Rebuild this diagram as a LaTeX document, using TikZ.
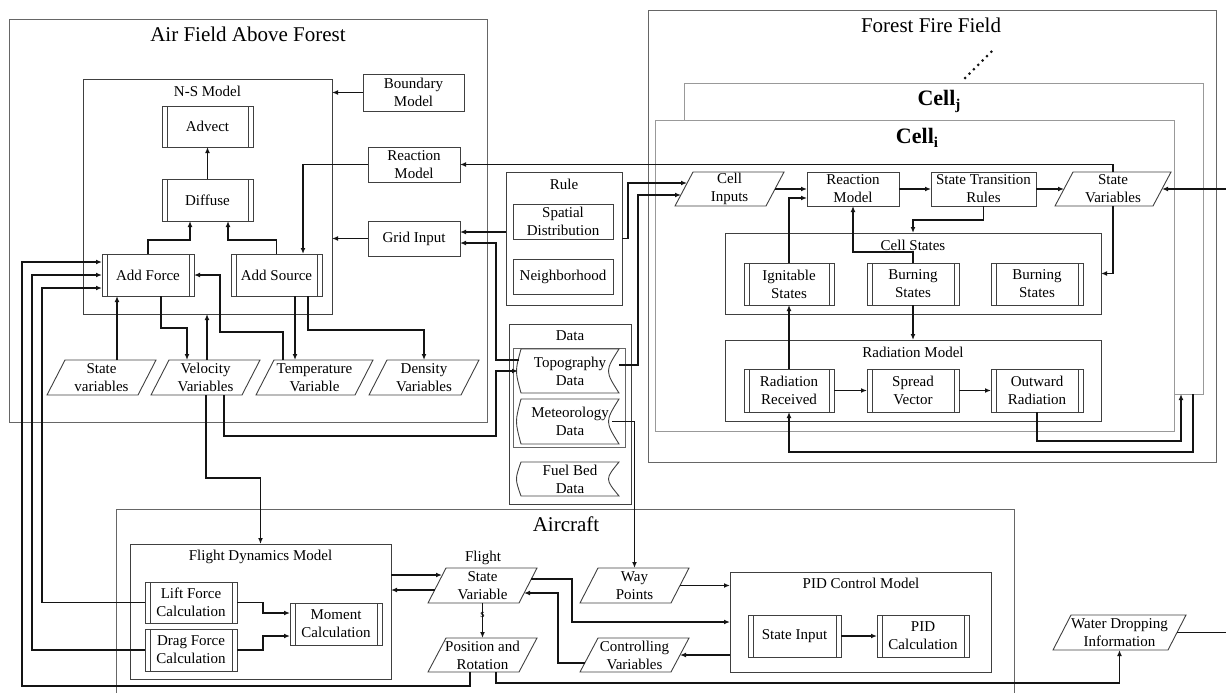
\documentclass[tikz,border=0pt]{standalone}
\usepackage{fontspec}
\setmainfont{Liberation Serif}
\usetikzlibrary{arrows.meta}
\definecolor{boxc}{gray}{0.25}
\definecolor{framec}{gray}{0.4}
\definecolor{cellc}{gray}{0.6}
\definecolor{linec}{gray}{0.08}
\tikzset{
  every node/.style={font=\fontsize{15}{18}\selectfont},
  sz/.style 2 args={minimum width=#1pt, minimum height=#2pt},
  frame/.style={draw=#1, line width=0.9pt, inner sep=0pt, outer sep=0pt},
  plainbox/.style={draw=boxc, line width=0.9pt, align=center, inner sep=1pt, outer sep=0pt},
  proc/.style={plainbox, path picture={
      \draw[boxc, line width=0.9pt]
        ([xshift=5pt]path picture bounding box.north west) -- ([xshift=5pt]path picture bounding box.south west)
        ([xshift=-5pt]path picture bounding box.north east) -- ([xshift=-5pt]path picture bounding box.south east);}},
  paranode/.style={align=center, inner sep=0pt, outer sep=0pt},
  datanode/.style={align=center, inner sep=0pt, outer sep=0pt},
  shapeline/.style={draw=boxc, line width=0.9pt},
  arr/.style={draw=linec, line width=1.35pt, -{Latex[length=6pt,width=4.8pt]}},
  ln/.style={draw=linec, line width=1.35pt},
  title/.style={font=\fontsize{21}{24}\selectfont},
  celltitle/.style={font=\fontsize{22}{24}\selectfont\bfseries},
  slab/.style={font=\fontsize{11}{12}\selectfont, inner sep=0pt},
}
\begin{document}
\begin{tikzpicture}[x=1pt,y=-1pt]
\useasboundingbox (0,0) rectangle (1226,693);
\clip (0,0) rectangle (1226,693);

% ---------------- containers ----------------
\node[frame=framec, sz={478}{403}] (air) at (248,220.5) {};
\node[title] (airt) at (248,34) {Air Field Above Forest};
\node[frame=boxc, sz={249}{235}] (ns) at (207.5,196.5) {};
\node (nst) at (207.5,91) {N-S Model};

\node[frame=boxc, sz={116}{133}] (rule) at (564,238.5) {};
\node (rulet) at (564,184) {Rule};
\node[frame=boxc, sz={122}{180}] (data) at (570,414) {};
\node (datat) at (570,336) {Data};
\node[frame=framec, sz={112}{99}] (dinner) at (569,397.5) {};

\node[frame=framec, sz={568}{452}] (forest) at (932,236) {};
\node[title] (forestt) at (931,25) {Forest Fire Field};
\coordinate (d1) at (965,78);
\coordinate (d2) at (993,50);
\draw[linec, line width=3pt, line cap=round, dash pattern=on 0pt off 6.2pt] (d1) -- (d2);
\node[frame=cellc, sz={519}{311}] (cellj) at (943.5,238.5) {};
\node[celltitle] (celljt) at (939,101) {Cell\raisebox{-4pt}{\fontsize{15}{15}\selectfont\bfseries j}};
\node[frame=cellc, fill=white, sz={519}{311}] (celli) at (914.5,275.5) {};
\node[celltitle] (cellit) at (917,138) {Cell\raisebox{-4pt}{\fontsize{15}{15}\selectfont\bfseries i}};
\node[frame=boxc, sz={376}{81}] (cstates) at (913,273.5) {};
\node (cstatest) at (913,245) {Cell States};
\node[frame=boxc, sz={376}{81}] (radm) at (913,380.5) {};
\node (radmt) at (913,352) {Radiation Model};

\node[frame=framec, sz={898}{200}] (aircraft) at (565,609) {};
\node[title] (aircraftt) at (566,524) {Aircraft};
\node[frame=boxc, sz={261}{135}] (fdm) at (260.5,611.5) {};
\node (fdmt) at (260.5,557) {Flight Dynamics Model};
\node[frame=boxc, sz={261}{100}] (pid) at (860.5,622) {};
\node (pidt) at (861,583) {PID Control Model};

% ---------------- air field nodes ----------------
\node[proc, sz={91}{41}] (advect) at (207.5,126.5) {Advect};
\node[proc, sz={91}{42}] (diffuse) at (207.5,200) {Diffuse};
\node[proc, sz={92}{42}] (addforce) at (148,275) {Add Force};
\node[proc, sz={91}{42}] (addsource) at (276.5,275) {Add Source};
\node[plainbox, sz={101}{37}] (boundary) at (413.5,92.5) {Boundary\\Model};
\node[plainbox, sz={92}{35}] (reactA) at (414,164.5) {Reaction\\Model};
\node[plainbox, sz={92}{35}] (grid) at (414,238.5) {Grid Input};

\node[paranode, sz={91}{35}] (sv) at (101.5,377.5) {State\\variables};
\node[paranode, sz={91}{35}] (vel) at (205.5,377.5) {Velocity\\Variables};
\node[paranode, sz={99}{35}] (temp) at (314.5,377.5) {Temperature\\Variable};
\node[paranode, sz={92}{35}] (dens) at (424,377.5) {Density\\Variables};

% ---------------- rule / data ----------------
\node[plainbox, sz={100}{35}] (spatial) at (563,221.5) {Spatial\\Distribution};
\node[plainbox, sz={100}{35}] (neigh) at (563,276.5) {Neighborhood};
\node[datanode, sz={98}{44}] (topo) at (570,371) {Topography\\Data};
\node[datanode, sz={98}{45}] (meteo) at (570,421.5) {Meteorology\\Data};
\node[datanode, sz={98}{34}] (fuel) at (570,479) {Fuel Bed\\Data};

% ---------------- cell nodes ----------------
\node[paranode, sz={91}{34}] (cin) at (729.5,189) {Cell\\Inputs};
\node[plainbox, sz={92}{34}] (reactC) at (853,189) {Reaction\\Model};
\node[plainbox, sz={105}{34}] (str) at (983.5,189) {State Transition\\Rules};
\node[paranode, sz={98}{34}] (svc) at (1113,189) {State\\Variables};
\node[proc, sz={90}{42}] (ign) at (789,284) {Ignitable\\States};
\node[proc, sz={92}{42}] (burn1) at (913,284) {Burning\\States};
\node[proc, sz={92}{42}] (burn2) at (1037,284) {Burning\\States};
\node[proc, sz={90}{43}] (radrec) at (789,390.5) {Radiation\\Received};
\node[proc, sz={92}{43}] (spread) at (913,390.5) {Spread\\Vector};
\node[proc, sz={92}{43}] (outrad) at (1037,390.5) {Outward\\Radiation};

% ---------------- aircraft nodes ----------------
\node[proc, sz={92}{41}] (lift) at (191,602.5) {Lift Force\\Calculation};
\node[proc, sz={92}{42}] (drag) at (191,650) {Drag Force\\Calculation};
\node[proc, sz={92}{42}] (moment) at (336,624) {Moment\\Calculation};
\node (flightt) at (483,558) {Flight};
\node[paranode, sz={91}{35}] (fsv) at (482.5,585.5) {State\\Variable};
\node[paranode, sz={91}{34}] (pos) at (482.5,655) {Position and\\Rotation};
\node[paranode, sz={91}{35}] (way) at (634.5,585.5) {Way\\Points};
\node[paranode, sz={91}{34}] (ctrl) at (634.5,655) {Controlling\\Variables};
\node[proc, sz={93}{42}] (sin) at (794.5,636) {State Input};
\node[proc, sz={92}{42}] (pidc) at (923,636) {PID\\Calculation};
\node[paranode, sz={115}{35}] (water) at (1119.5,632.5) {Water Dropping\\Information};

% parallelogram outlines
\foreach \n in {sv,vel,temp,dens,cin,svc,fsv,pos,way,ctrl,water}
  \draw[shapeline] ([xshift=-9pt]\n.south west) -- ([xshift=9pt]\n.north west)
     -- ([xshift=9pt]\n.north east) -- ([xshift=-9pt]\n.south east) -- cycle;
% stored-data outlines
\foreach \n in {topo,meteo,fuel}
  \draw[shapeline] (\n.north west) .. controls ([xshift=-6pt]\n.west) .. (\n.south west)
     -- (\n.south east) .. controls ([xshift=-14pt]\n.east) .. (\n.north east) -- cycle;

% ---------------- connectors: air field ----------------
\draw[arr] (boundary.west) -- (boundary.west -| ns.east);
\draw[arr] (diffuse.north) -- (advect.south);
\draw[arr] (addforce.north) -- ++(0,-14) -| ([xshift=-17.5pt]diffuse.south);
\draw[arr] (addsource.north) -- ++(0,-14) -| ([xshift=20.5pt]diffuse.south);
\draw[arr] (reactA.west) -| ([xshift=26.5pt]addsource.north);
\draw[arr] (grid.west) -- (grid.west -| ns.east);
\draw[arr] ([xshift=15.5pt]sv.north) -- ++(0,-64);
\draw[arr] ([xshift=13pt]addforce.south) -- ++(0,32) -| ([xshift=-18.5pt]vel.north);
\draw[arr] ([xshift=1.5pt]vel.north) -- ++(0,-46);
\draw[arr] ([xshift=-31.5pt]temp.north) -- ++(0,-28) -- ++(-63,0) |- (addforce.east);
\draw[arr] ([xshift=18.5pt]addsource.south) -- ([xshift=-19.5pt]temp.north);
\draw[arr] ([xshift=31.5pt]addsource.south) -- ++(0,34) -| (dens.north);
\draw[arr] ([xshift=0.5pt]vel.south) -- ++(0,83) -| (fdm.north);
\draw[arr] ([xshift=18.5pt]vel.south) -- ++(0,41) -- ++(272,0) |- ([xshift=-3pt]topo.west);
\draw[arr] ([xshift=-2pt,yshift=11pt]topo.west) -- ++(-23,0) |- ([yshift=-4.5pt]grid.east);
\draw[arr] ([yshift=6.5pt]rule.west) -- ([yshift=6.5pt]grid.east);
\draw[arr] (rule.east) -- ++(6,0) |- ([xshift=3pt,yshift=6pt]cin.west);
\draw[arr] ([yshift=6pt]topo.east) -- ++(19,0) |- ([xshift=-3pt,yshift=-6pt]cin.west);
\draw[arr] ([xshift=-7pt]meteo.east) -| (way.north);

% ---------------- connectors: cell ----------------
\draw[arr] (cin.east) -- (reactC.west);
\draw[arr] (ign.north) |- ([yshift=-9pt]reactC.west);
\draw[arr] (burn1.north) -- ++(0,-11) -| (reactC.south);
\draw[arr] (reactC.east) -- (str.west);
\draw[arr] (str.east) -- (svc.west);
\draw[arr] (str.south) -- ++(0,14) -| (cstates.north);
\draw[arr] (svc.north) |- (reactA.east);
\coordinate (rin) at (1226,189);
\draw[arr] (rin) -- (svc.east);
\draw[arr] (svc.south) |- (cstates.east);
\draw[arr] (burn1.south) -- (radm.north);
\draw[arr] (radrec.north) -- (ign.south);
\draw[arr] (radrec.east) -- (spread.west);
\draw[arr] (spread.east) -- (outrad.west);
\draw[arr] (outrad.south) -- ++(0,29) -| ([xshift=-22pt]cellj.south east);
\draw[arr] ([xshift=-10pt]cellj.south east) -- ++(0,58) -| (radrec.south);

% ---------------- connectors: aircraft ----------------
\draw[arr] ([yshift=36.5pt]fdm.east) -- ++(51,0);
\draw[arr] ([xshift=-2.3pt,yshift=-4.5pt]fsv.west) -- ++(-43.7,0);
\draw[arr] (fsv.south) -- node[slab, pos=0.35] (slabel) {s} (pos.north);
\draw[arr] ([xshift=3.3pt,yshift=6.5pt]fsv.east) -- ++(40.7,0) |- (pid.west);
\draw[arr] (way.east) -- (way.east -| pid.west);
\draw[arr] (ctrl.east -| pid.west) -- (ctrl.east);
\draw[arr] ([xshift=-4pt,yshift=-8pt]ctrl.west) -- ++(-27,0) |- ([xshift=-4pt,yshift=-7.5pt]fsv.east);
\draw[arr] (sin.east) -- (pidc.west);
\draw[arr] (lift.east) -- ++(26,0) |- ([yshift=11pt]moment.west);
\draw[arr] (drag.east) -- ++(26,0) |- ([yshift=-12pt]moment.west);

% long feedback lines to Add Force
\coordinate (c1) at (22,686);
\coordinate (c2) at (32,650);
\coordinate (c3) at (42,602);
\draw[arr] ([xshift=-12.5pt]pos.south) |- (c1) |- ([yshift=13pt]addforce.west);
\draw[arr] (drag.west) -- (drag.west -| c2) |- (addforce.west);
\draw[arr] (lift.west) -- (lift.west -| c3) |- ([yshift=-13pt]addforce.west);

\draw[arr] ([xshift=13.5pt]pos.south) -- ++(0,11) -| (water.south);
\coordinate (wout) at (1226,632.5);
\draw[ln] (water.east) -- (wout);
\end{tikzpicture}
\end{document}
